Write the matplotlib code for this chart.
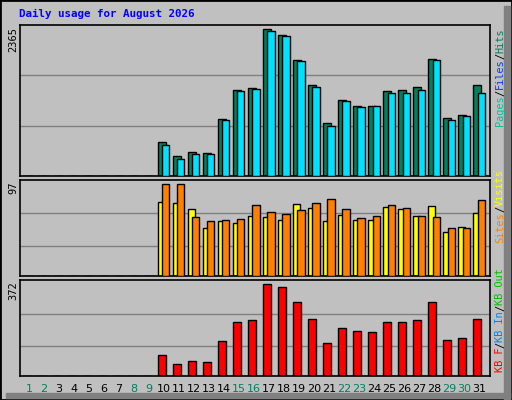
import matplotlib
matplotlib.use("Agg")
import matplotlib.pyplot as plt
import numpy as np

days = list(range(1, 32))
hits  = [0]*9 + [543,317,382,366,914,1381,1414,2365,2268,1865,1462,849,1220,1123,1123,1371,1381,1430,1881,930,978,1462]
files = [0]*9 + [495,269,349,349,898,1365,1398,2333,2252,1849,1430,801,1204,1107,1123,1333,1333,1381,1865,898,962,1333]
visits = [0]*9 + [78,77,70,50,58,56,63,62,59,76,72,58,64,59,59,73,71,63,74,46,52,66]
sites  = [0]*9 + [97,97,62,58,59,60,75,67,65,69,77,81,71,61,63,75,72,63,62,51,51,80]
kbytes = [0]*9 + [86,49,61,57,143,217,225,372,360,298,229,135,192,180,176,217,217,225,298,147,155,229]
weekend = [1,2,8,9,15,16,22,23,29,30]
title = "Daily usage for August 2026"

W, H = 512, 400
fig = plt.figure(figsize=(5.12, 4.0), dpi=100)
fig.patch.set_facecolor("#C0C0C0")

def ax_at(top, bottom, left=20, right=490):
    return fig.add_axes([left/W, 1-bottom/H, (right-left)/W, (bottom-top)/H])

x = np.array(days, dtype=float)
xlim = (0.4, 31.72)
mono = "DejaVu Sans Mono"

def style(ax, ymax, grids):
    ax.set_facecolor("#C0C0C0")
    ax.set_xlim(*xlim); ax.set_ylim(0, ymax)
    ax.set_xticks([]); ax.set_yticks([])
    for s in ax.spines.values():
        s.set_color("black"); s.set_linewidth(1.2)
    for g in grids:
        ax.axhline(g*ymax, color="#808080", lw=1, zorder=0)

ec = dict(edgecolor="black", linewidth=1)
ax1 = ax_at(25, 176); style(ax1, 2434, [1/3, 2/3])
ax1.bar(x-0.38, hits, width=0.49, align="edge", color="#00805C", **ec, zorder=2)
ax1.bar(x-0.11, files, width=0.47, align="edge", color="#00E0FF", **ec, zorder=3)
ax2 = ax_at(180, 276); style(ax2, 101, [0.31, 0.66])
ax2.bar(x-0.38, visits, width=0.45, align="edge", color="#FFFF00", **ec, zorder=2)
ax2.bar(x-0.11, sites, width=0.47, align="edge", color="#FF8000", **ec, zorder=3)
ax3 = ax_at(280, 376); style(ax3, 388, [0.31, 0.65])
ax3.bar(x-0.38, kbytes, width=0.49, align="edge", color="#FF0000", **ec, zorder=2)

for d in days:
    ax3.text(d, -0.14, str(d), transform=ax3.get_xaxis_transform(), ha="center", va="center",
             fontsize=8, family="DejaVu Sans",
             color="#008060" if d in weekend else "black")

fig.text(19/W, 1-14/H, title, family=mono, weight="bold", fontsize=7.8, color="#0000FF", va="center")
for txt, top in [("2365", 27), ("97", 181), ("372", 281)]:
    fig.text(13/W, 1-top/H, txt, family=mono, fontsize=7.5, rotation=90, ha="center", va="top")

cw = 6.1
def vlabel(segs, ybottom):
    y = ybottom
    for s, c in segs:
        fig.text(500/W, 1-y/H, s, family=mono, fontsize=7.4, rotation=90, ha="center", va="bottom", color=c)
        y -= cw*len(s)
vlabel([("Pages", "#00C0A0"), ("/", "black"), ("Files", "#0040FF"), ("/", "black"), ("Hits", "#00805C")], 126)
vlabel([("Sites", "#FF8000"), ("/", "black"), ("Visits", "#FFFF00")], 243)
vlabel([("KB F", "#FF0000"), ("/", "black"), ("KB In", "#0080FF"), ("/", "black"), ("KB Out", "#00C000")], 372)

from matplotlib.patches import Rectangle
fig.patches.append(Rectangle((0, 0), 1, 1, transform=fig.transFigure, fill=False, edgecolor="black", lw=2))
fig.patches.append(Rectangle((1-8/W, 0), 6/W, 1-6/H, transform=fig.transFigure, color="#808080"))
fig.patches.append(Rectangle((6/W, 2/H), 1-8/W, 5/H, transform=fig.transFigure, color="#808080"))
fig.savefig("out.png", dpi=100, facecolor=fig.get_facecolor())
